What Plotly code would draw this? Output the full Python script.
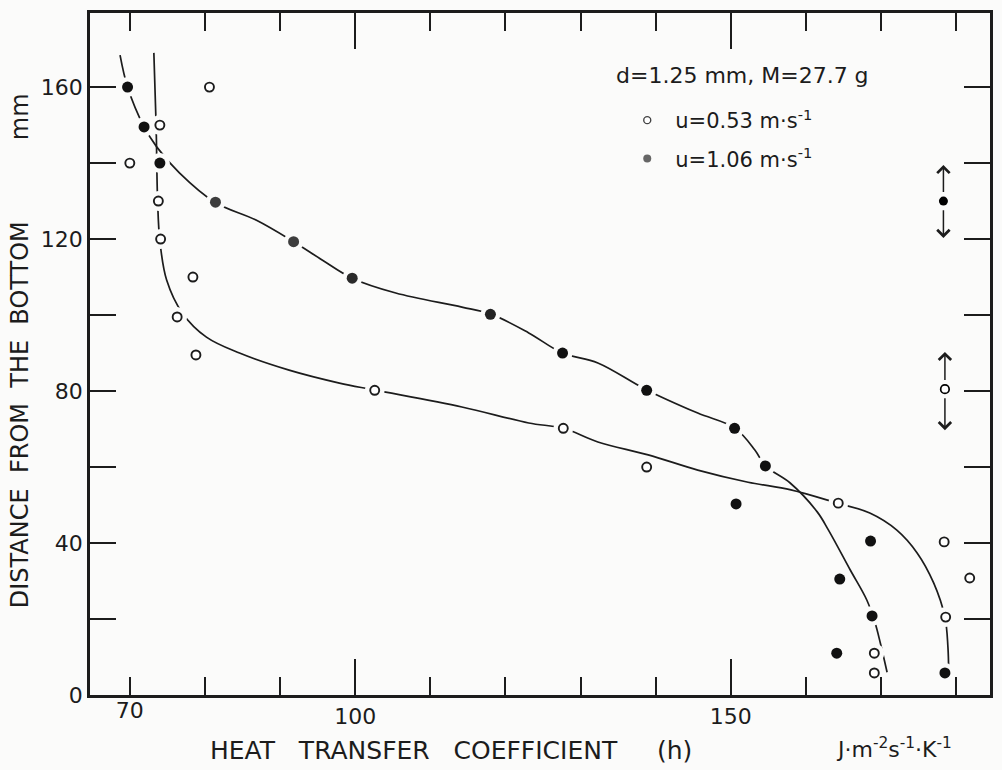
import plotly.graph_objects as go

# ---------------- data ----------------
# u = 0.53 m/s  (open circles)
open_h = [80.6, 70.0, 74.0, 73.8, 74.1, 78.4, 76.3, 78.8, 102.6, 127.7, 138.8,
          164.3, 178.4, 181.8, 178.6, 169.1, 169.1]
open_z = [160, 140, 150, 130, 120, 110, 99.5, 89.5, 80.2, 70.2, 60,
          50.5, 40.3, 30.8, 20.5, 11, 5.8]

# u = 1.06 m/s  (filled circles)
fill_h = [69.7, 71.9, 74.0, 81.4, 91.8, 99.6, 118.0, 127.6, 138.8, 150.5, 154.6,
          150.7, 168.6, 164.5, 168.8, 164.1, 178.5]
fill_z = [160, 149.5, 140, 129.7, 119.3, 109.7, 100.2, 90, 80.2, 70.2, 60.3,
          50.3, 40.5, 30.5, 20.8, 11, 5.8]
fill_col = ["#111111", "#111111", "#111111", "#3d3d3d", "#3d3d3d", "#2a2a2a",
            "#222222", "#111111", "#111111", "#111111", "#111111", "#111111",
            "#111111", "#111111", "#111111", "#111111", "#111111"]

# hand-drawn fitting curves
curve_open_h = [73.2, 73.5, 73.7, 74.0, 74.9, 77.0, 80.2, 84.6, 91.2, 97.9, 102.5,
                114.2, 123.1, 127.7, 132.3, 139.0, 145.6, 152.3, 158.0, 164.2,
                168.5, 172.1, 174.8, 177.0, 178.5, 178.9, 179.0]
curve_open_z = [169, 150, 130, 119.5, 109.2, 100.5, 94.2, 90, 85.5, 82.1, 80.3,
                75.8, 71.6, 70.2, 66.6, 63.2, 59.2, 56.0, 54.0, 50.5,
                47.9, 43.4, 37.4, 29.5, 20.5, 12.6, 6.0]

curve_fill_h = [68.7, 69.7, 71.9, 73.6, 76.6, 81.3, 86.8, 91.8, 95.6, 99.6, 105.4,
                114.2, 118.0, 123.1, 127.6, 132.3, 138.8, 145.6, 150.5, 153.2,
                154.6, 157.9, 161.5, 163.0, 165.9, 168.1, 169.2, 169.9, 170.8]
curve_fill_z = [168.4, 160, 149.5, 144.2, 137.4, 129.7, 125, 119.3, 114.5, 109.7, 105.8,
                102.1, 100.3, 95.3, 90, 87.4, 80.3, 74.2, 70.3, 64.5,
                60.3, 55.8, 48.2, 43.4, 32.9, 25, 19, 13.7, 6.0]

# probe-size indicators (point with up/down arrows)
ind_h = [178.3, 178.5]
ind_z = [130.0, 80.5]
ind_up = [139.5, 90.3]
ind_down = [120.3, 69.7]
ind_filled = [True, False]

x_major = [100, 150]
x_label_extra = [70]
y_major = [0, 40, 80, 120, 160]

X_RANGE = [64.7, 184.5]
Y_RANGE = [0, 179.5]

# ---------------- layout geometry ----------------
W, H = 1002, 770
ML, MR, MT, MB = 90, 9, 13, 75
PW, PH = W - ML - MR, H - MT - MB


def px(xp):
    return (xp - ML) / PW


def py(yp):
    return 1 - (yp - MT) / PH


FONT = "DejaVu Sans"
INK = "#1c1c1c"
BG = "#fbfbfa"
NB = "\u00a0"

fig = go.Figure()

# curves
for ch, cz in ((curve_open_h, curve_open_z), (curve_fill_h, curve_fill_z)):
    fig.add_trace(go.Scatter(x=ch, y=cz, mode="lines",
                             line=dict(color=INK, width=1.7, shape="spline", smoothing=1.0),
                             showlegend=False, hoverinfo="skip"))

# white halos giving the gaps of the lines around the points
fig.add_trace(go.Scatter(x=open_h + fill_h, y=open_z + fill_z, mode="markers",
                         marker=dict(size=20, color=BG, line=dict(width=0)),
                         showlegend=False, hoverinfo="skip"))

# data points
fig.add_trace(go.Scatter(x=open_h, y=open_z, mode="markers",
                         marker=dict(size=9, color="white", symbol="circle",
                                     line=dict(color=INK, width=1.9)),
                         showlegend=False))
fig.add_trace(go.Scatter(x=fill_h, y=fill_z, mode="markers",
                         marker=dict(size=11, color=fill_col, symbol="circle",
                                     line=dict(width=0)),
                         showlegend=False))

# indicator points
fig.add_trace(go.Scatter(
    x=[h for h, f in zip(ind_h, ind_filled) if f],
    y=[z for z, f in zip(ind_z, ind_filled) if f], mode="markers",
    marker=dict(size=9, color="#000000", line=dict(width=0)),
    showlegend=False, hoverinfo="skip"))
fig.add_trace(go.Scatter(
    x=[h for h, f in zip(ind_h, ind_filled) if not f],
    y=[z for z, f in zip(ind_z, ind_filled) if not f], mode="markers",
    marker=dict(size=8.5, color="white", line=dict(color="#000000", width=1.7)),
    showlegend=False, hoverinfo="skip"))

# legend entries
fig.add_trace(go.Scatter(x=[None], y=[None], mode="markers", legendgroup="a",
                         name="u=0.53 m·s<sup>-1</sup>",
                         marker=dict(size=7, color="white", line=dict(color="#444", width=1.4))))
fig.add_trace(go.Scatter(x=[None], y=[None], mode="markers", legendgroup="b",
                         name="u=1.06 m·s<sup>-1</sup>",
                         marker=dict(size=8, color="#666666", line=dict(width=0))))

# extra axis only for the "70" label (short tick on main axis)
fig.add_trace(go.Scatter(x=[None], y=[None], xaxis="x2", showlegend=False, hoverinfo="skip"))

annotations = []
for h, zc, zu, zd in zip(ind_h, ind_z, ind_up, ind_down):
    for tip, tail in ((zu, zc + 2.0), (zd, zc - 2.0)):
        annotations.append(dict(x=h, y=tip, ax=h, ay=tail, xref="x", yref="y",
                                axref="x", ayref="y", showarrow=True, arrowhead=4,
                                arrowsize=1.6, arrowwidth=1.5, arrowcolor=INK,
                                standoff=0, startstandoff=0, text=""))

annotations += [
    dict(text=f"HEAT{NB*3}TRANSFER{NB*3}COEFFICIENT{NB*5}(h)",
         xref="paper", yref="paper", x=px(208), y=py(750), xanchor="left", yanchor="middle",
         showarrow=False, font=dict(family=FONT, size=25, color=INK)),
    dict(text="J·m<sup>-2</sup>s<sup>-1</sup>·K<sup>-1</sup>",
         xref="paper", yref="paper", x=px(836), y=py(748), xanchor="left", yanchor="middle",
         showarrow=False, font=dict(family=FONT, size=22, color=INK)),
    dict(text=f"DISTANCE{NB*2}FROM{NB*2}THE{NB*2}BOTTOM",
         xref="paper", yref="paper", x=px(20), y=py(415), xanchor="center", yanchor="middle",
         textangle=-90, showarrow=False, font=dict(family=FONT, size=24, color=INK)),
    dict(text="mm",
         xref="paper", yref="paper", x=px(20), y=py(117), xanchor="center", yanchor="middle",
         textangle=-90, showarrow=False, font=dict(family=FONT, size=24, color=INK)),
    dict(text="d=1.25 mm, M=27.7 g",
         xref="paper", yref="paper", x=px(616), y=py(75), xanchor="left", yanchor="middle",
         showarrow=False, font=dict(family=FONT, size=22, color=INK)),
]

axis_common = dict(showgrid=False, zeroline=False, showline=True, linecolor=INK,
                   linewidth=2.6, mirror="ticks", ticks="inside", tickcolor=INK,
                   tickwidth=1.8, tickfont=dict(family=FONT, size=22, color=INK))

fig.update_layout(
    width=W, height=H,
    margin=dict(l=ML, r=MR, t=MT, b=MB),
    paper_bgcolor=BG, plot_bgcolor=BG,
    font=dict(family=FONT, color=INK),
    xaxis=dict(range=X_RANGE, tickvals=x_major, ticklen=36,
               minor=dict(tick0=70, dtick=10, ticks="inside", ticklen=18,
                          tickwidth=1.8, tickcolor=INK),
               **axis_common),
    xaxis2=dict(range=X_RANGE, overlaying="x", anchor="y", side="bottom",
                tickvals=x_label_extra, ticks="", showline=False, showgrid=False,
                zeroline=False, tickfont=dict(family=FONT, size=22, color=INK)),
    yaxis=dict(range=Y_RANGE, tickvals=y_major, ticklen=26,
               minor=dict(tick0=0, dtick=20, ticks="inside", ticklen=26,
                          tickwidth=1.8, tickcolor=INK),
               **axis_common),
    legend=dict(x=px(621), y=py(100), xanchor="left", yanchor="top",
                bgcolor="rgba(0,0,0,0)", borderwidth=0,
                font=dict(family=FONT, size=21, color=INK),
                tracegroupgap=8, itemwidth=46, itemsizing="trace"),
    annotations=annotations,
    showlegend=True,
)

fig.write_html("out.html")
